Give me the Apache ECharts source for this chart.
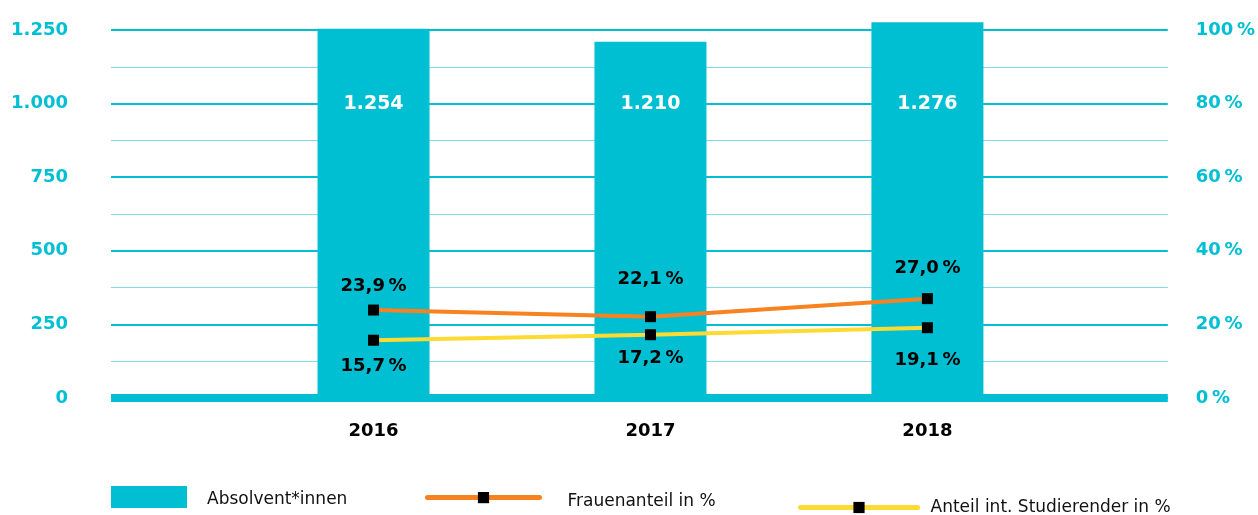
<!DOCTYPE html>
<html><head><meta charset="utf-8">
<script src="https://cdn.jsdelivr.net/npm/echarts@6/dist/echarts.min.js"></script>
<style>html,body{margin:0;padding:0;background:#fff}#c{width:1258px;height:515px}</style>
</head><body><div id="c"></div>
<script>
const categories = ['2016', '2017', '2018'];
const absolventen = [1254, 1210, 1276];
const frauenanteil = [23.9, 22.1, 27.0];
const intStudierende = [15.7, 17.2, 19.1];
const leftTicks = [0, 250, 500, 750, 1000, 1250];
const rightTicks = [0, 20, 40, 60, 80, 100];

// label spacing (style only)
const frauenLabelGap = [9, 23, 16];
const intLabelGap = [12, 9, 18];

const CYAN = '#00bfd3', ORANGE = '#f7821f', YELLOW = '#fddb32';
const FONT = 'DejaVu Sans';
const gridTop = 30, gridH = 368, yMax = 1250;

const fmtThousand = v => String(v).replace(/\B(?=(\d{3})+(?!\d))/g, '.');
const fmtPct = v => v.toFixed(1).replace('.', ',') + '\u202F%';

const legendText = (padTop, padLeft) => ({
  fontFamily: FONT, fontSize: 17, color: '#111',
  rich: { t: { fontFamily: FONT, fontSize: 17, color: '#111', padding: [padTop, 0, 0, padLeft] } }
});

const chart = echarts.init(document.getElementById('c'));
chart.setOption({
  animation: false,
  grid: { left: 111, right: 88, top: gridTop, height: gridH },
  xAxis: {
    type: 'value', min: -0.948, max: 2.868,
    axisLine: { show: true, onZero: true, lineStyle: { color: CYAN, width: 8, cap: 'butt' } },
    axisTick: { show: false },
    splitLine: { show: false },
    axisLabel: {
      customValues: categories.map((c, i) => i),
      formatter: v => categories[Math.round(v)] || '',
      color: '#000', fontFamily: FONT, fontWeight: 'bold', fontSize: 18, margin: 24
    }
  },
  yAxis: [{
    type: 'value', min: 0, max: yMax, interval: 250,
    axisLine: { show: false }, axisTick: { show: false },
    axisLabel: { customValues: leftTicks, formatter: fmtThousand, color: CYAN, fontFamily: FONT, fontWeight: 'bold', fontSize: 18, margin: 43 },
    splitLine: { show: true, lineStyle: { color: CYAN, width: 2 } },
    minorTick: { show: false, splitNumber: 2 },
    minorSplitLine: { show: true, lineStyle: { color: '#80dde8', width: 1 } }
  }, {
    type: 'value', min: 0, max: 100, interval: 20,
    axisLine: { show: false }, axisTick: { show: false }, splitLine: { show: false },
    axisLabel: { customValues: rightTicks, formatter: v => v + '\u202F%', color: CYAN, fontFamily: FONT, fontWeight: 'bold', fontSize: 18, margin: 28, align: 'left' }
  }],
  legend: [
    { data: [{ name: 'Absolvent*innen', icon: 'rect' }], left: 111, top: 486, padding: 0, itemWidth: 76, itemHeight: 22,
      formatter: n => '{t|' + n + '}', textStyle: legendText(6, 15) },
    { data: ['Frauenanteil in %'], left: 425, top: 492, padding: 0, itemWidth: 112, itemHeight: 14,
      lineStyle: { width: 5, cap: 'round' },
      formatter: n => '{t|' + n + '}', textStyle: legendText(8, 23) },
    { data: ['Anteil int. Studierender in %'], left: 798, top: 499, padding: 0, itemWidth: 117, itemHeight: 14,
      lineStyle: { width: 5, cap: 'round' },
      formatter: n => '{t|' + n + '}', textStyle: legendText(0, 8) }
  ],
  series: [{
    name: 'Absolvent*innen', type: 'bar', clip: false, barWidth: 112, z: 1,
    itemStyle: { color: CYAN },
    data: absolventen.map((v, i) => ({
      value: [i, v],
      label: { show: true, position: 'insideTop', distance: (v - 1000) * gridH / yMax - 9,
        formatter: () => fmtThousand(v), color: '#fff', fontFamily: FONT, fontWeight: 'bold', fontSize: 19 }
    }))
  }, {
    name: 'Frauenanteil in %', type: 'line', yAxisIndex: 1, z: 5,
    symbol: 'rect', symbolSize: 11, itemStyle: { color: '#000' },
    lineStyle: { color: ORANGE, width: 4 },
    data: frauenanteil.map((v, i) => ({
      value: [i, v],
      label: { show: true, position: 'top', distance: frauenLabelGap[i], formatter: () => fmtPct(v),
        color: '#000', fontFamily: FONT, fontWeight: 'bold', fontSize: 18 }
    }))
  }, {
    name: 'Anteil int. Studierender in %', type: 'line', yAxisIndex: 1, z: 5,
    symbol: 'rect', symbolSize: 11, itemStyle: { color: '#000' },
    lineStyle: { color: YELLOW, width: 4 },
    data: intStudierende.map((v, i) => ({
      value: [i, v],
      label: { show: true, position: 'bottom', distance: intLabelGap[i], formatter: () => fmtPct(v),
        color: '#000', fontFamily: FONT, fontWeight: 'bold', fontSize: 18 }
    }))
  }]
});
</script></body></html>
